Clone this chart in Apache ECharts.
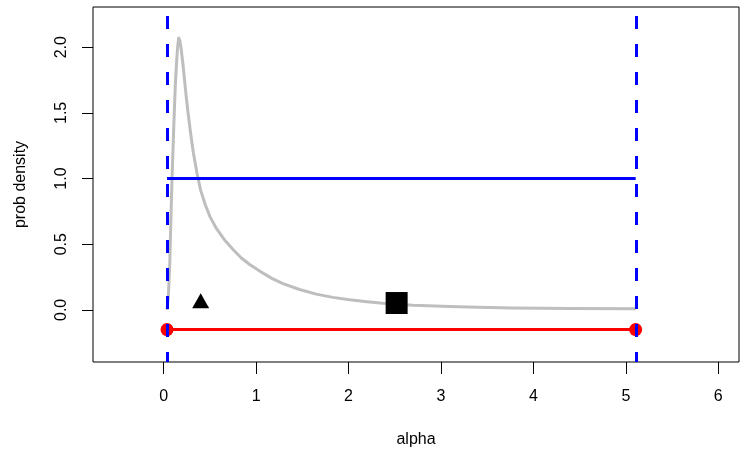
<!DOCTYPE html>
<html>
<head>
<meta charset="utf-8">
<script src="https://cdn.jsdelivr.net/npm/echarts@6/dist/echarts.min.js"></script>
<style>
  html, body { margin: 0; padding: 0; background: #ffffff; }
  #main { width: 740px; height: 453px; }
</style>
</head>
<body>
<div id="main"></div>
<script>
// values
const alphaGrid = [0.036, 0.05, 0.065, 0.078, 0.09, 0.11, 0.125, 0.137, 0.15, 0.162, 0.175, 0.19, 0.21, 0.235, 0.26, 0.29, 0.32, 0.36, 0.40, 0.45, 0.50, 0.57, 0.65, 0.75, 0.84, 0.93, 1.05, 1.17, 1.29, 1.47, 1.65, 1.83, 2.01, 2.2, 2.37, 2.7, 3.09, 3.4, 3.77, 4.4, 5.106];
const density = [0.0, 0.10, 0.34, 0.70, 1.0, 1.42, 1.70, 1.86, 2.00, 2.07, 2.05, 1.98, 1.86, 1.68, 1.52, 1.35, 1.20, 1.04, 0.91, 0.80, 0.71, 0.62, 0.54, 0.46, 0.395, 0.345, 0.29, 0.24, 0.20, 0.155, 0.12, 0.095, 0.077, 0.062, 0.051, 0.036, 0.025, 0.019, 0.015, 0.011, 0.008];

const bounds = [0.036, 5.106];
const uniformLevel = 1.0;
const intervalLevel = -0.15;
const trianglePoint = [0.40, 0.07];
const squarePoint = [2.52, 0.052];

const xTicks = [0, 1, 2, 3, 4, 5, 6];
const yTicks = [0, 0.5, 1, 1.5, 2];

const chart = echarts.init(document.getElementById('main'), null, { renderer: 'canvas' });

const font = 'Liberation Sans, Arial, sans-serif';

var option = {
  backgroundColor: '#ffffff',
  animation: false,
  grid: {
    left: 93, right: 1, top: 7, bottom: 90,
    show: true, borderColor: '#000000', borderWidth: 1
  },
  xAxis: {
    type: 'value',
    min: -0.765, max: 6.224,
    name: 'alpha',
    nameLocation: 'middle',
    nameGap: 70,
    nameTextStyle: { color: '#000', fontSize: 16, fontFamily: font },
    axisLine: { show: false, onZero: false },
    splitLine: { show: false },
    axisTick: { show: true, customValues: xTicks, length: 12, inside: false, lineStyle: { color: '#000' } },
    axisLabel: { customValues: xTicks, margin: 27, color: '#000', fontSize: 16, fontFamily: font }
  },
  yAxis: {
    type: 'value',
    min: -0.397, max: 2.306,
    name: 'prob density',
    nameLocation: 'middle',
    nameRotate: 90,
    nameGap: 64,
    nameTextStyle: { color: '#000', fontSize: 16, fontFamily: font },
    axisLine: { show: false, onZero: false },
    splitLine: { show: false },
    axisTick: { show: true, customValues: yTicks, length: 11, lineStyle: { color: '#000' } },
    axisLabel: {
      customValues: yTicks, rotate: 90, margin: 23, color: '#000', fontSize: 16, fontFamily: font,
      formatter: function (v) { return v.toFixed(1); }
    }
  },
  series: [
    {
      name: 'posterior',
      type: 'line',
      z: 2,
      smooth: false,
      symbol: 'none',
      lineStyle: { color: '#BEBEBE', width: 3, join: 'round' },
      data: alphaGrid.map((a, i) => [a, density[i]])
    },
    {
      name: 'uniform',
      type: 'line',
      z: 3,
      symbol: 'none',
      lineStyle: { color: '#0000FF', width: 3 },
      data: bounds.map(b => [b, uniformLevel])
    },
    {
      name: 'interval',
      type: 'line',
      z: 3,
      symbol: 'circle',
      symbolSize: 13,
      itemStyle: { color: '#FF0000' },
      lineStyle: { color: '#FF0000', width: 3 },
      data: bounds.map(b => [b, intervalLevel])
    },
    {
      name: 'median',
      type: 'scatter',
      z: 4,
      symbol: 'triangle',
      symbolSize: [17, 15],
      itemStyle: { color: '#000000', opacity: 1 },
      data: [trianglePoint]
    },
    {
      name: 'mean',
      type: 'scatter',
      z: 4,
      symbol: 'rect',
      symbolSize: 22,
      itemStyle: { color: '#000000', opacity: 1 },
      data: [squarePoint]
    },
    {
      name: 'bounds',
      type: 'line',
      z: 5,
      data: [],
      markLine: {
        silent: true,
        symbol: 'none',
        label: { show: false },
        lineStyle: { color: '#0000FF', width: 3, type: [13, 15], dashOffset: 3, cap: 'butt' },
        data: bounds.map(b => ({ xAxis: b }))
      }
    }
  ]
};

chart.setOption(option);
</script>
</body>
</html>
